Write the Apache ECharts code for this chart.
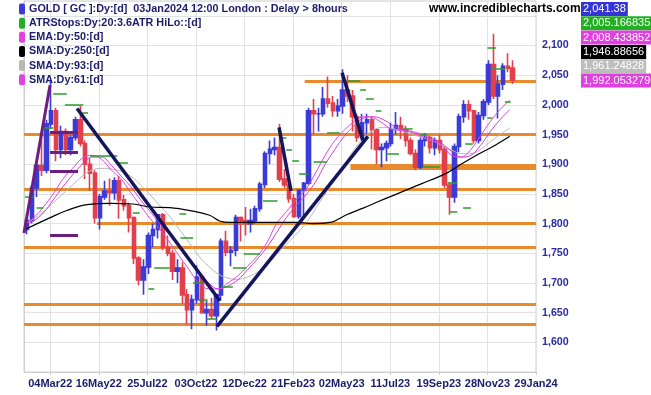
<!DOCTYPE html>
<html><head><meta charset="utf-8">
<script src="https://cdn.jsdelivr.net/npm/echarts@6/dist/echarts.min.js"></script>
<style>html,body{margin:0;padding:0;background:#fff}#c{width:651px;height:395px}</style>
</head><body><div id="c"></div>
<script>
// ---- DATA ----
// weekly bars, week i is centred on trading day 5*i+3 (day 0 = 28 Jan 2022)
const opens  = [1790,1805,1860,1898,1890,1968,1990,1925,1955,1925,1945,1975,1935,1900,1885,1810,1845,1855,1852,1872,1840,1830,1810,1742,1705,1727,1780,1790,1815,1760,1750,1720,1725,1680,1655,1672,1710,1650,1655,1645,1680,1770,1752,1755,1810,1805,1800,1805,1825,1866,1918,1925,1928,1875,1865,1842,1812,1856,1868,1990,1985,1985,2010,2003,1990,1998,2025,2015,1980,1945,1970,1975,1958,1925,1928,1935,1960,1965,1958,1940,1918,1895,1940,1945,1928,1940,1925,1865,1845,1930,1980,2000,1990,1940,1982,2005,2068,2015,2035,2065,2062];
const highs  = [1810,1865,1905,1950,1975,2040,1995,1965,1960,1950,1980,1998,1940,1910,1890,1850,1872,1876,1878,1880,1848,1835,1812,1745,1740,1785,1800,1808,1818,1780,1755,1740,1735,1690,1680,1730,1715,1670,1675,1682,1775,1788,1762,1815,1812,1828,1825,1830,1870,1922,1940,1945,1968,1892,1870,1850,1858,1870,1995,2010,1995,2030,2048,2015,2010,2060,2050,2025,1985,1985,1985,1980,1960,1935,1940,1970,1988,1980,1965,1945,1925,1945,1952,1948,1945,1950,1930,1870,1935,1985,2008,2008,1992,1988,2010,2075,2120,2050,2070,2087,2075];
const lows   = [1782,1800,1845,1880,1885,1960,1905,1910,1915,1915,1940,1930,1875,1855,1800,1790,1840,1830,1840,1808,1822,1785,1732,1696,1680,1715,1760,1775,1755,1745,1705,1700,1665,1630,1622,1665,1648,1628,1640,1620,1670,1745,1728,1745,1770,1780,1785,1800,1820,1860,1900,1915,1870,1860,1835,1810,1808,1812,1865,1950,1955,1980,1995,1980,1980,1985,2005,1955,1938,1940,1950,1925,1900,1895,1905,1930,1950,1942,1930,1915,1890,1892,1930,1918,1915,1918,1860,1815,1835,1920,1970,1975,1935,1935,1975,2000,2010,1977,2025,2055,2035];
const closes = [1805,1860,1898,1890,1968,1990,1925,1955,1925,1945,1975,1935,1900,1885,1810,1845,1855,1852,1872,1840,1830,1810,1742,1705,1727,1780,1790,1815,1760,1750,1720,1725,1680,1655,1672,1710,1650,1655,1645,1680,1770,1752,1755,1810,1805,1800,1805,1825,1866,1918,1925,1928,1875,1865,1842,1812,1856,1868,1990,1985,1985,2010,2003,1990,1998,2025,2015,1980,1945,1970,1975,1958,1925,1928,1935,1960,1965,1958,1940,1918,1895,1940,1945,1928,1940,1925,1865,1845,1930,1980,2000,1990,1940,1982,2005,2068,2015,2035,2065,2062,2041.38];

const maDays = [0,10,20,30,40,50,60,70,80,90,100,110,120,130,140,150,160,170,180,190,200,210,220,230,240,250,260,270,280,290,300,310,320,330,340,350,360,370,380,390,400,410,420,430,440,450,460,470,480,490,500];
const ema50 = [1798,1810,1828,1850,1875,1893,1910,1915,1908,1890,1875,1852,1830,1808,1790,1768,1745,1722,1700,1690,1690,1700,1712,1728,1745,1768,1800,1820,1840,1858,1885,1915,1940,1958,1972,1980,1978,1968,1958,1957,1953,1946,1940,1932,1915,1912,1925,1948,1972,1992,2008];
const sma61 = [1800,1805,1818,1840,1862,1882,1900,1912,1912,1898,1880,1862,1840,1820,1800,1782,1762,1740,1718,1700,1690,1695,1705,1722,1740,1760,1785,1810,1830,1848,1870,1900,1925,1948,1965,1978,1980,1975,1965,1958,1955,1950,1943,1935,1922,1912,1915,1932,1955,1975,1992];
const sma93 = [1800,1808,1820,1835,1850,1865,1880,1890,1893,1892,1888,1880,1865,1848,1830,1812,1790,1768,1745,1728,1715,1708,1706,1710,1718,1730,1748,1765,1782,1800,1825,1850,1875,1900,1925,1945,1958,1962,1960,1955,1950,1945,1940,1932,1924,1918,1918,1925,1938,1950,1961];
const sma250Days = [1,27,44,65,89,112,130,150,171,191,202,212,238,260,281,297,315,332,349,366,384,400,418,435,452,469,485,500];
const sma250 = [1790,1810,1822,1832,1834,1833,1828,1827,1822,1814,1804,1802,1802,1802,1802,1800,1802,1815,1826,1838,1850,1861,1873,1885,1902,1918,1932,1947];

// ATR stop steps: [fromDay, toDay, level]
const atrStops = [[1,9,1846],[13,20,1827],[21,30,1962],[30,44,2019],[42,61,2000],[60,66,1987],[68,96,1915],[96,107,1903],[112,119,1819],[128,134,1690],[134,150,1726],[160,167,1817],[161,174,1777],[174,184,1700],[180,189,1671],[188,198,1640],[203,215,1693],[215,229,1726],[226,243,1750],[246,261,1839],[264,270,1945],[270,276,1925],[276,283,1906],[283,292,1884],[298,312,1905],[312,325,1953],[333,346,2041],[346,352,2025],[352,360,2010],[362,368,1990],[373,386,1918],[390,400,1960],[408,415,1950],[410,428,1895],[436,446,1868],[438,446,1820],[452,460,1827],[454,462,1935],[477,482,1979],[477,486,2097],[482,495,2061],[495,501,2005]];

// horizontal support / resistance levels: [fromDay, toDay, level]
const levels = [[289,527,2040],[0,527,1950],[0,527,1858],[75,527,1800],[0,527,1760],[0,527,1664],[0,527,1630]];
const thickLevels = [[336,527,1896]];
// trend lines: [day1, price1, day2, price2]
const trendLines = [[54.6,1994,201.6,1670],[198.7,1627,354,1947],[327.4,2054,348.9,1940],[262.5,1962,274.8,1855]];
const purpleLines = [[0,1784,26.8,2033],[26.8,1954,55.6,1954],[26.8,1921,55.6,1921],[26.8,1888,55.6,1888],[26.8,1780,55.6,1780]];

const xTickDays = [27,77,127,177,227,277,327,377,427,477,527];
const xTickLabels = ['04Mar22','16May22','25Jul22','03Oct22','12Dec22','21Feb23','02May23','11Jul23','19Sep23','28Nov23','29Jan24'];

const legendNames = ['GOLD [ GC ]:Dy:[d]  03Jan2024 12:00 London : Delay > 8hours','ATRStops:Dy:20:3.6ATR HiLo::[d]','EMA:Dy:50:[d]','SMA:Dy:250:[d]','SMA:Dy:93:[d]','SMA:Dy:61:[d]'];
const lastValues = ['2,041.38','2,005.166835','2,008.433852','1,946.88656','1,961.24828','1,992.053279'];

// ---- STYLE ----
const UP='#3b3bd8', DOWN='#e2404c', ORANGE='#ea8a2e', NAVY='#15155c', PURPLE='#6e1e7e', GREEN='#2c9c2c', MAG='#e044e0', MAG2='#d63cd6', GRAY='#b8b8b8';
const legendColors=[UP,'#22b022',MAG,'#000',GRAY,MAG];
const boxColors=['#3434d8','#22b022','#e040e0','#000','#bdbdbd','#e040e0'];
const FONT='"Liberation Sans", Arial, sans-serif';

const chart = echarts.init(document.getElementById('c'));
const candleData = closes.map((c,i)=>[5*i+3, opens[i], c, lows[i], highs[i]]);
const pairs = (xs, ys)=>ys.map((v,i)=>[xs[i], v]);

const graphic = [];
legendNames.forEach((t,k)=>{
  const cy = 9 + 14.15*k;
  graphic.push({type:'rect', shape:{x:19,y:cy-5.5,width:6,height:11,r:2}, style:{fill:legendColors[k]}, z:100});
  graphic.push({type:'text', style:{x:29,y:cy,text:t,font:'bold 10.8px '+FONT,fill:'#1c1c6a',verticalAlign:'middle'}, z:100});
});
graphic.push({type:'text', style:{x:429,y:9,text:'www.incrediblecharts.com',font:'bold 12px '+FONT,fill:'#000',verticalAlign:'middle'}, z:100});
lastValues.forEach((t,k)=>{
  graphic.push({type:'text', style:{x:581,y:2+14.3*k,text:t,font:'11px '+FONT,fill:'#fff',backgroundColor:boxColors[k],padding:[1,2,1,2],lineHeight:12,verticalAlign:'top'}, z:100});
});

const seg = (arr)=>arr.map(a=>({coords:[[a[0],a[2]],[a[1],a[2]]]}));
const seg4 = (arr)=>arr.map(a=>({coords:[[a[0],a[1]],[a[2],a[3]]]}));

chart.setOption({
  animation:false,
  backgroundColor:'#fff',
  grid:{left:24,right:115,top:1,bottom:23,show:true,borderColor:'#cfcfcf',borderWidth:1},
  xAxis:{type:'value',min:0,max:527,
    axisLine:{show:true,lineStyle:{color:'#cfcfcf'}},
    axisTick:{show:true,customValues:xTickDays,length:3,lineStyle:{color:'#cfcfcf'}},
    axisLabel:{customValues:xTickDays,formatter:v=>xTickLabels[xTickDays.indexOf(Math.round(v))]||'',color:'#1c1c6a',fontWeight:'bold',fontSize:11,fontFamily:FONT,margin:6},
    splitLine:{show:true,lineStyle:{color:'#e2e2e2'}}},
  yAxis:{type:'value',position:'right',min:1550,max:2175,interval:50,
    axisLine:{show:true,lineStyle:{color:'#cfcfcf'}},axisTick:{show:false},
    axisLabel:{formatter:v=>(v>=1600&&v<=2100)?v.toLocaleString('en-US'):'',color:'#2c2ca0',fontWeight:'bold',fontSize:10.7,fontFamily:FONT,margin:6},
    splitLine:{show:true,lineStyle:{color:'#e2e2e2'}}},
  graphic:graphic,
  series:[
    {type:'lines',coordinateSystem:'cartesian2d',data:seg(levels),lineStyle:{color:ORANGE,width:3,opacity:1},silent:true,z:2},
    {type:'lines',coordinateSystem:'cartesian2d',data:seg(thickLevels),lineStyle:{color:ORANGE,width:6,opacity:1},silent:true,z:2},
    {type:'candlestick',data:candleData,encode:{x:0,y:[1,2,3,4]},barWidth:4,
      itemStyle:{color:UP,color0:DOWN,borderColor:UP,borderColor0:DOWN,borderWidth:1.6},z:3},
    {type:'line',data:pairs(maDays,sma93),showSymbol:false,smooth:0.4,lineStyle:{color:GRAY,width:1},z:4},
    {type:'line',data:pairs(maDays,sma61),showSymbol:false,smooth:0.4,lineStyle:{color:MAG2,width:1},z:4},
    {type:'line',data:pairs(maDays,ema50),showSymbol:false,smooth:0.4,lineStyle:{color:MAG,width:1},z:4},
    {type:'line',data:pairs(sma250Days,sma250),showSymbol:false,smooth:0.4,lineStyle:{color:'#000',width:1.2},z:4},
    {type:'lines',coordinateSystem:'cartesian2d',data:seg(atrStops),lineStyle:{color:GREEN,width:1.5,opacity:1},silent:true,z:5},
    {type:'lines',coordinateSystem:'cartesian2d',data:seg4(purpleLines),lineStyle:{color:PURPLE,width:3,opacity:1},silent:true,z:6},
    {type:'lines',coordinateSystem:'cartesian2d',data:seg4(trendLines),lineStyle:{color:NAVY,width:3.5,opacity:1},silent:true,z:6}
  ]
});
</script></body></html>
